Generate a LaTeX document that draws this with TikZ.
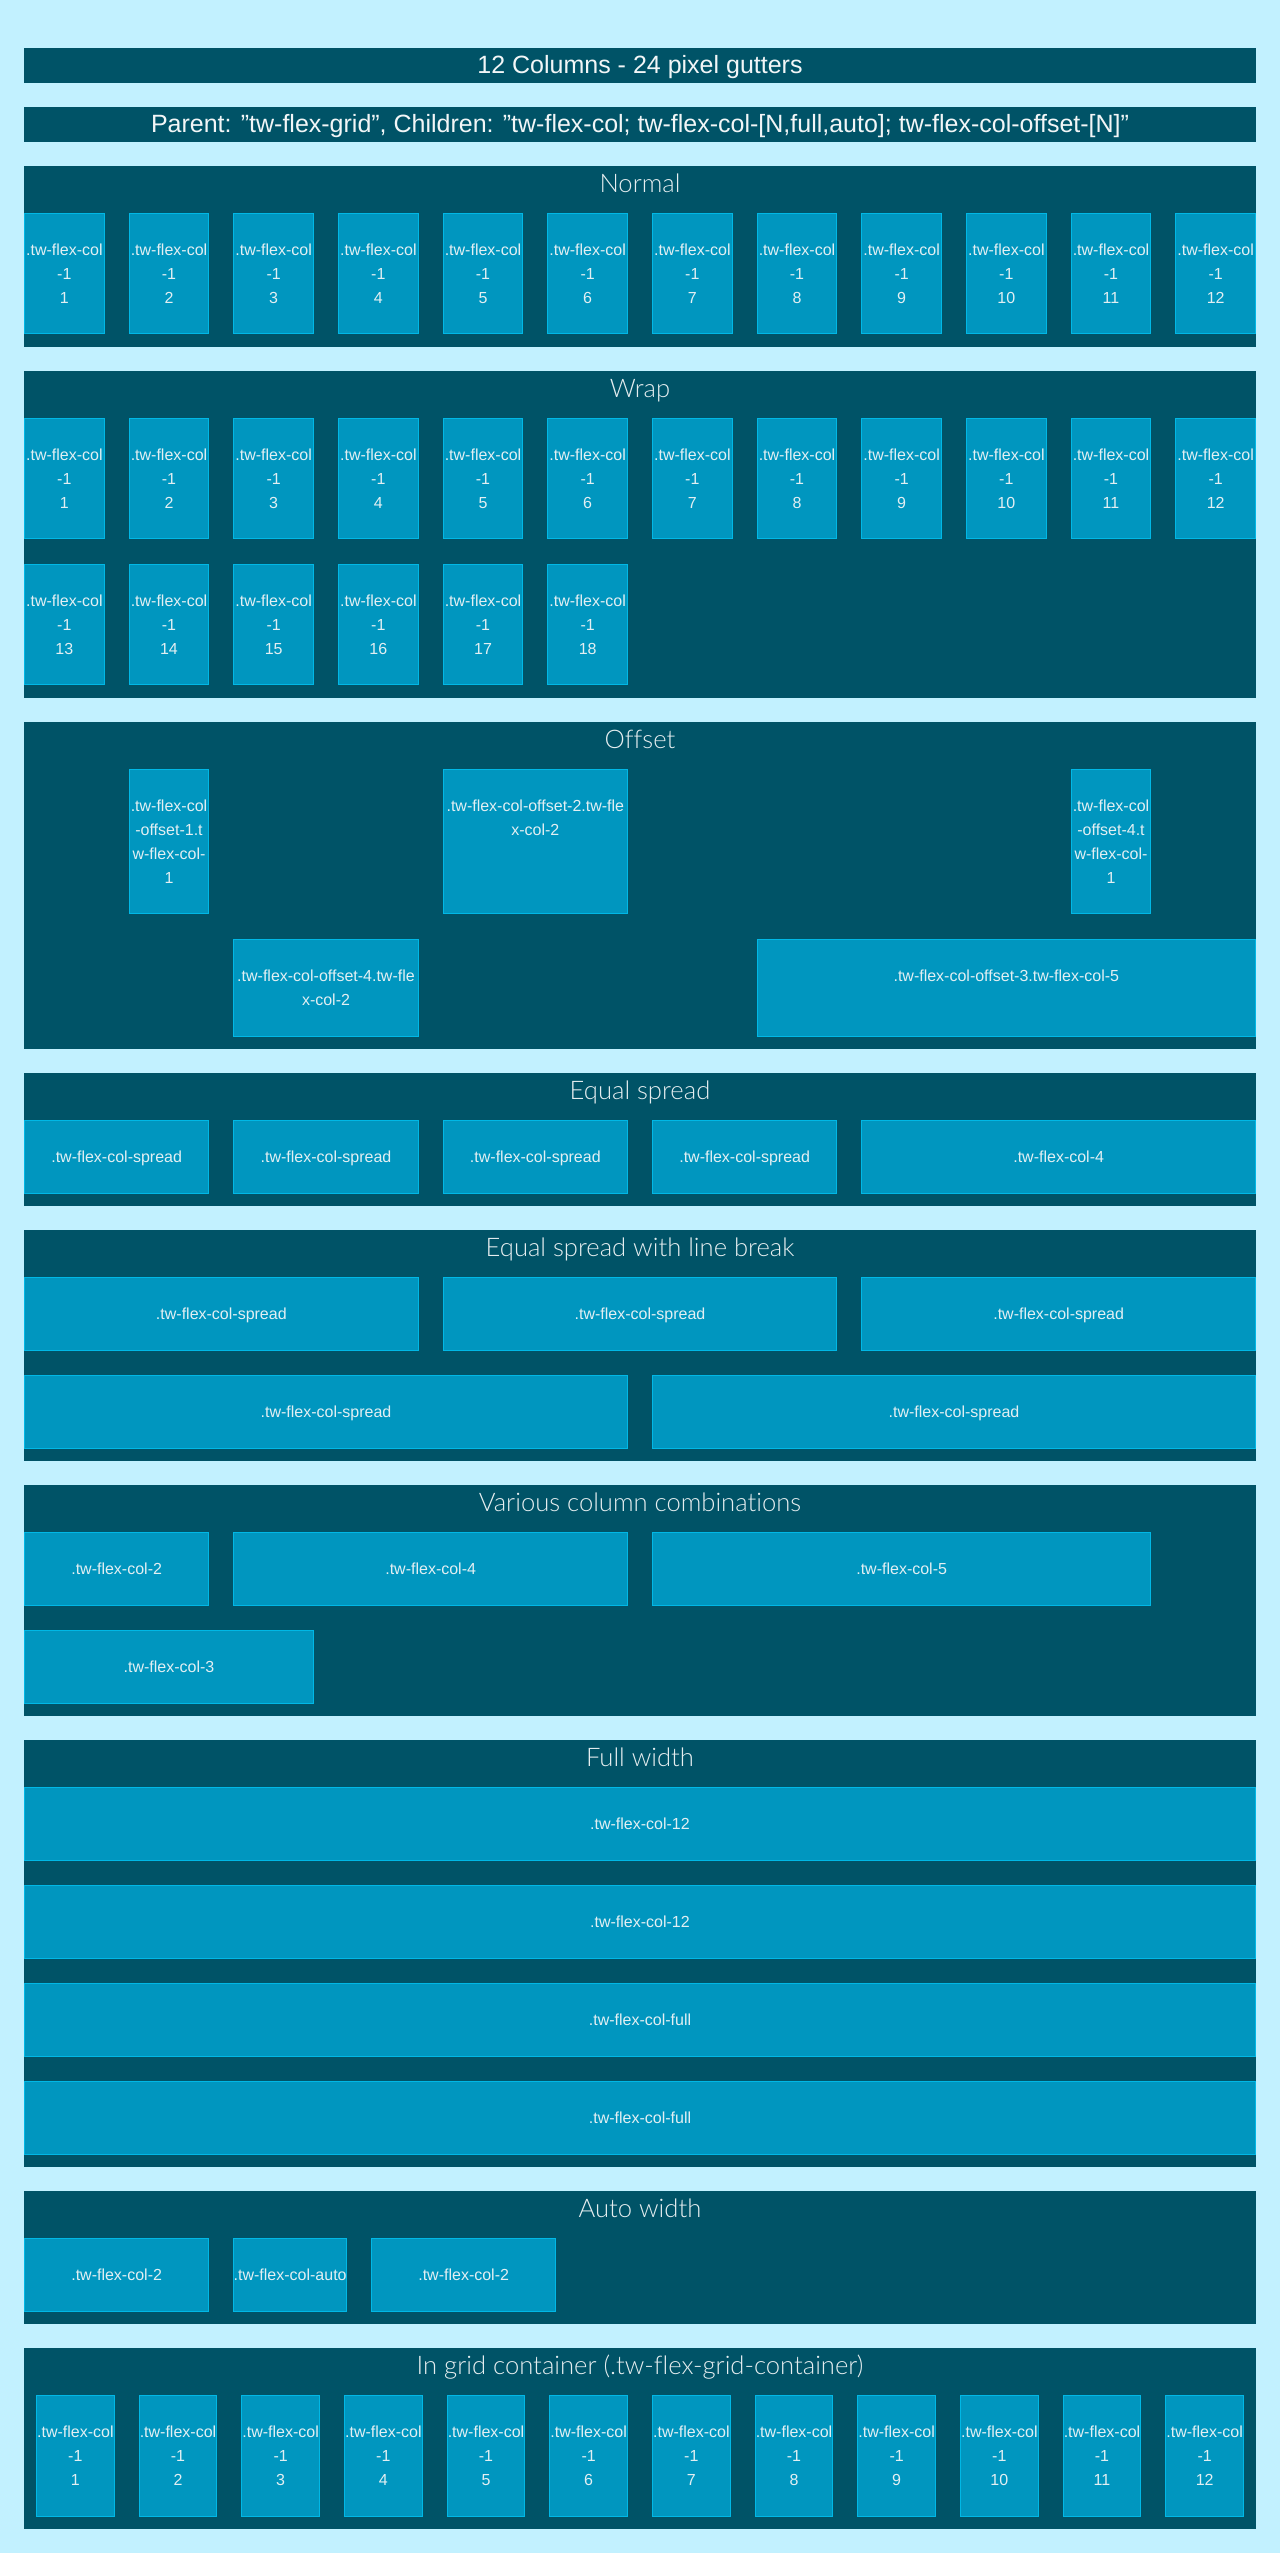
\documentclass[tikz,border=0pt]{standalone}
\usepackage{fontspec}
\setmainfont{Liberation Sans}
\newfontfamily\titlefont{Lato Light}[Ligatures={NoCommon,NoRare,NoContextual}]
\definecolor{bgc}{HTML}{C2F1FF}
\definecolor{secc}{HTML}{005367}
\definecolor{boxc}{HTML}{0096BF}
\definecolor{bordc}{HTML}{00B8E6}
\definecolor{txtc}{HTML}{E2EFF3}
\definecolor{ttlc}{HTML}{E6EEF0}
\definecolor{hdc}{HTML}{F2F6F7}
\tikzset{
  sec/.style={fill=secc},
  colbox/.style={fill=boxc, draw=bordc, line width=1pt},
  btxt/.style={font=\fontsize{16}{24}\selectfont, text=txtc, inner sep=0pt, anchor=base},
  ttl/.style={font=\titlefont\fontsize{25.6}{30}\selectfont, text=ttlc, inner sep=0pt, anchor=base},
  htxt/.style={font=\fontsize{25}{30}\selectfont, text=hdc, inner sep=0pt, anchor=base},
}
\newcommand\cb[4]{\filldraw[colbox] (#1+0.5,#2+0.5) rectangle (#3-0.5,#4-0.5);}
\newcommand\dq{\char34\relax}
\begin{document}
\begin{tikzpicture}[x=1pt,y=-1pt]
\fill[bgc] (0,0) rectangle (1280,2553);
\useasboundingbox (0,0) rectangle (1280,2553);
% headers
\fill[sec] (24,48) rectangle (1256,82.7);
\node[htxt] (h1) at (640,73.3) {12 Columns - 24 pixel gutters};
\fill[sec] (24,107) rectangle (1256,141.7);
\node[htxt] (h2) at (640,132.7) {Parent: \dq tw-flex-grid\dq, Children: \dq tw-flex-col; tw-flex-col-[N,full,auto]; tw-flex-col-offset-[N]\dq};
% sections
\fill[sec] (24,166) rectangle (1256,346.7);
\node[ttl] (t1) at (640,192.5) {Normal};
\fill[sec] (24,371) rectangle (1256,697.7);
\node[ttl] (t2) at (640,397.5) {Wrap};
\fill[sec] (24,722) rectangle (1256,1049);
\node[ttl] (t3) at (640,748.5) {Offset};
\fill[sec] (24,1073) rectangle (1256,1205.7);
\node[ttl] (t4) at (640,1099.5) {Equal spread};
\fill[sec] (24,1230) rectangle (1256,1460.7);
\node[ttl] (t5) at (640,1256.5) {Equal spread with line break};
\fill[sec] (24,1485) rectangle (1256,1716);
\node[ttl] (t6) at (640,1511.5) {Various column combinations};
\fill[sec] (24,1740) rectangle (1256,2166.7);
\node[ttl] (t7) at (640,1766.5) {Full width};
\fill[sec] (24,2191) rectangle (1256,2324);
\node[ttl] (t8) at (640,2217.5) {Auto width};
\fill[sec] (24,2348) rectangle (1256,2529);
\node[ttl] (t9) at (640,2374.5) {In grid container (.tw-flex-grid-container)};
% Normal
\foreach \k in {1,...,12}{
  \pgfmathsetmacro\xa{24+(\k-1)*104.6667}
  \pgfmathsetmacro\xb{\xa+80.6667}
  \pgfmathsetmacro\xc{\xa+40.3333}
  \cb{\xa}{213}{\xb}{334.3}
  \node[btxt] (n\k-a) at (\xc,255) {.tw-flex-col};
  \node[btxt] (n\k-b) at (\xc,279) {-1};
  \node[btxt] (n\k-c) at (\xc,303) {\k};
}
% Wrap
\foreach \k in {1,...,18}{
  \pgfmathtruncatemacro\r{(\k-1)/12}
  \pgfmathtruncatemacro\c{\k-1-12*\r}
  \pgfmathsetmacro\xa{24+\c*104.6667}
  \pgfmathsetmacro\xb{\xa+80.6667}
  \pgfmathsetmacro\xc{\xa+40.3333}
  \pgfmathsetmacro\ya{418+\r*146}
  \pgfmathsetmacro\yb{\ya+121.3}
  \cb{\xa}{\ya}{\xb}{\yb}
  \node[btxt] (w\k-a) at (\xc,\ya+42) {.tw-flex-col};
  \node[btxt] (w\k-b) at (\xc,\ya+66) {-1};
  \node[btxt] (w\k-c) at (\xc,\ya+90) {\k};
}
% Offset
\cb{128.67}{769}{209.33}{914.3}
\node[btxt] (oa1) at (169,811) {.tw-flex-col};
\node[btxt] (oa2) at (169,835) {-offset-1.t};
\node[btxt] (oa3) at (169,859) {w-flex-col-};
\node[btxt] (oa4) at (169,883) {1};
\cb{442.67}{769}{628}{914.3}
\node[btxt] (ob1) at (535.33,811) {.tw-flex-col-offset-2.tw-fle};
\node[btxt] (ob2) at (535.33,835) {x-col-2};
\cb{1070.67}{769}{1151.33}{914.3}
\node[btxt] (oc1) at (1111,811) {.tw-flex-col};
\node[btxt] (oc2) at (1111,835) {-offset-4.t};
\node[btxt] (oc3) at (1111,859) {w-flex-col-};
\node[btxt] (oc4) at (1111,883) {1};
\cb{233.33}{939}{418.67}{1036.7}
\node[btxt] (od1) at (326,981) {.tw-flex-col-offset-4.tw-fle};
\node[btxt] (od2) at (326,1005) {x-col-2};
\cb{756.67}{939}{1256}{1036.7}
\node[btxt] (oe1) at (1006.33,981) {.tw-flex-col-offset-3.tw-flex-col-5};
% Equal spread
\foreach \xa/\xb/\lab [count=\i] in {24/209.33/.tw-flex-col-spread,233.33/418.67/.tw-flex-col-spread,442.67/628/.tw-flex-col-spread,652/837.33/.tw-flex-col-spread,861.33/1256/.tw-flex-col-4}{
  \cb{\xa}{1120}{\xb}{1193.5}
  \node[btxt] (es\i) at ({(\xa+\xb)/2},1162) {\lab};
}
% Equal spread with line break
\foreach \xa/\xb/\ya [count=\i] in {24/418.67/1277,442.67/837.33/1277,861.33/1256/1277,24/628/1375,652/1256/1375}{
  \cb{\xa}{\ya}{\xb}{\ya+73.5}
  \node[btxt] (lb\i) at ({(\xa+\xb)/2},\ya+42) {.tw-flex-col-spread};
}
% Various
\foreach \xa/\xb/\ya/\lab [count=\i] in {24/209.33/1532/.tw-flex-col-2,233.33/628/1532/.tw-flex-col-4,652/1151.33/1532/.tw-flex-col-5,24/314/1630/.tw-flex-col-3}{
  \cb{\xa}{\ya}{\xb}{\ya+73.5}
  \node[btxt] (vc\i) at ({(\xa+\xb)/2},\ya+42) {\lab};
}
% Full width
\foreach \ya/\lab [count=\i] in {1787/.tw-flex-col-12,1885/.tw-flex-col-12,1983/.tw-flex-col-full,2081/.tw-flex-col-full}{
  \cb{24}{\ya}{1256}{\ya+73.5}
  \node[btxt] (fw\i) at (640,\ya+42) {\lab};
}
% Auto width
\foreach \xa/\xb/\lab [count=\i] in {24/209.33/.tw-flex-col-2,233.33/347/.tw-flex-col-auto,371/556.33/.tw-flex-col-2}{
  \cb{\xa}{2238}{\xb}{2311.5}
  \node[btxt] (aw\i) at ({(\xa+\xb)/2},2280) {\lab};
}
% Grid container
\foreach \k in {1,...,12}{
  \pgfmathsetmacro\xa{36+(\k-1)*102.6667}
  \pgfmathsetmacro\xb{\xa+78.6667}
  \pgfmathsetmacro\xc{\xa+39.3333}
  \cb{\xa}{2395}{\xb}{2516.5}
  \node[btxt] (g\k-a) at (\xc,2437) {.tw-flex-col};
  \node[btxt] (g\k-b) at (\xc,2461) {-1};
  \node[btxt] (g\k-c) at (\xc,2485) {\k};
}
\end{tikzpicture}
\end{document}
